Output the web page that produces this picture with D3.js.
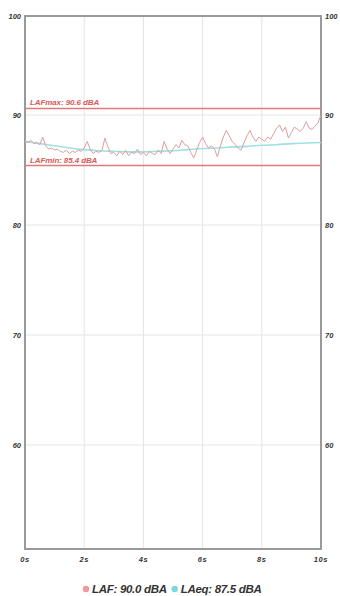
<!DOCTYPE html>
<html>
<head>
<meta charset="utf-8">
<script src="https://cdn.jsdelivr.net/npm/d3@7"></script>
<style>
  html, body { margin: 0; padding: 0; background: #fff; }
  svg { display: block; }
  .lbl { font-family: "Liberation Sans", Arial, sans-serif; font-weight: bold; font-style: italic; }
</style>
</head>
<body>
<svg id="chart" width="340" height="596"></svg>
<script>
// Sound level recording, 10 s window
const lafTimes = d3.range(0, 101).map(i => i / 10);
const lafValues = [
  87.6, 87.5, 87.7, 87.4, 87.5, 87.3, 88.0, 87.2, 86.9, 87.0,
  86.8, 86.9, 86.7, 86.6, 86.8, 86.5, 86.7, 86.6, 86.8, 86.7,
  87.0, 87.6, 86.9, 86.5, 86.7, 86.6, 86.8, 87.9, 87.1, 86.5,
  86.6, 86.3, 86.7, 86.4, 86.8, 86.3, 86.6, 86.5, 86.9, 86.4,
  86.6, 86.3, 86.7, 86.5, 86.4, 86.8, 86.5, 87.6, 86.9, 86.5,
  86.9, 87.3, 87.0, 87.7, 87.3, 87.2, 86.6, 86.1, 86.8, 87.5,
  88.0, 87.4, 87.0, 87.2, 86.9, 86.2, 87.2, 88.0, 88.6, 88.1,
  87.6, 87.3, 87.0, 86.8, 87.5, 88.1, 88.6, 88.0, 87.6, 88.0,
  87.8, 87.6, 88.0, 87.8, 88.3, 88.8, 89.1, 88.5, 88.9, 87.9,
  88.4, 88.9, 88.7, 88.5, 88.8, 89.4, 88.8, 88.7, 89.0, 89.3,
  90.0
];
const leqTimes = [0, 0.5, 1, 1.5, 2, 2.5, 3, 3.5, 4, 4.5, 5, 5.5, 6, 6.5, 7, 7.5, 8, 8.5, 9, 9.5, 10];
const leqValues = [87.6, 87.4, 87.2, 87.0, 86.85, 86.75, 86.7, 86.65, 86.65, 86.7, 86.75, 86.85, 86.95, 87.0, 87.1, 87.15, 87.25, 87.3, 87.4, 87.45, 87.5];

const lafMax = 90.6;
const lafMin = 85.4;
const lafNow = 90.0;
const leqNow = 87.5;

const xTicks = [0, 2, 4, 6, 8, 10];
const xTickLabels = ["0s", "2s", "4s", "6s", "8s", "10s"];
const yTicks = [60, 70, 80, 90];
const yTopLabel = "100";

const svg = d3.select("#chart");
const plotL = 25, plotR = 321, plotT = 16, plotB = 549;

const x = d3.scaleLinear().domain([0, 10]).range([plotL, plotR]);
const y = d3.scaleLinear().domain([60 - 104 / 11, 60 + 429 / 11]).range([plotB, plotT]);

// grid
const grid = svg.append("g");
grid.selectAll("line.v").data(xTicks.slice(1, -1)).join("line")
  .attr("x1", d => x(d)).attr("x2", d => x(d))
  .attr("y1", plotT).attr("y2", plotB)
  .attr("stroke", "#e4e4e4").attr("stroke-width", 1);
grid.selectAll("line.h").data(yTicks).join("line")
  .attr("x1", plotL).attr("x2", plotR)
  .attr("y1", d => y(d)).attr("y2", d => y(d))
  .attr("stroke", "#e4e4e4").attr("stroke-width", 1);

// frame
svg.append("rect")
  .attr("x", plotL).attr("y", plotT)
  .attr("width", plotR - plotL).attr("height", plotB - plotT)
  .attr("fill", "none").attr("stroke", "#9a9a9a").attr("stroke-width", 2);

// y tick labels (both sides)
const yLabelData = yTicks.map(v => ({ v: y(v), t: String(v) })).concat([{ v: plotT, t: yTopLabel }]);
svg.append("g").selectAll("text").data(yLabelData).join("text")
  .attr("class", "lbl")
  .attr("x", plotL - 4).attr("y", d => d.v).attr("dy", "0.35em")
  .attr("text-anchor", "end").attr("font-size", 7.5).attr("fill", "#333")
  .text(d => d.t);
svg.append("g").selectAll("text").data(yLabelData).join("text")
  .attr("class", "lbl")
  .attr("x", plotR + 4).attr("y", d => d.v).attr("dy", "0.35em")
  .attr("text-anchor", "start").attr("font-size", 7.5).attr("fill", "#333")
  .text(d => d.t);

// x tick labels
svg.append("g").selectAll("text").data(xTicks).join("text")
  .attr("class", "lbl")
  .attr("x", d => x(d)).attr("y", plotB + 13)
  .attr("text-anchor", "middle").attr("font-size", 7.5).attr("fill", "#333")
  .attr("letter-spacing", 0.6)
  .text((d, i) => xTickLabels[i]);

// max / min reference lines
const refs = [
  { v: lafMax, t: "LAFmax: " + lafMax.toFixed(1) + " dBA" },
  { v: lafMin, t: "LAFmin: " + lafMin.toFixed(1) + " dBA" }
];
svg.append("g").selectAll("line").data(refs).join("line")
  .attr("x1", plotL).attr("x2", plotR)
  .attr("y1", d => y(d.v)).attr("y2", d => y(d.v))
  .attr("stroke", "#e07a7a").attr("stroke-width", 1.5);
svg.append("g").selectAll("text").data(refs).join("text")
  .attr("class", "lbl")
  .attr("x", plotL + 5).attr("y", d => y(d.v) - 3)
  .attr("font-size", 8).attr("fill", "#d85a5a")
  .attr("letter-spacing", -0.1)
  .text(d => d.t);

// LAeq
const leqLine = d3.line().x((d, i) => x(leqTimes[i])).y(d => y(d)).curve(d3.curveMonotoneX);
svg.append("path").datum(leqValues)
  .attr("d", leqLine).attr("fill", "none")
  .attr("stroke", "#9fe0e2").attr("stroke-width", 1.6);

// LAF
const lafLine = d3.line().x((d, i) => x(lafTimes[i])).y(d => y(d));
svg.append("path").datum(lafValues)
  .attr("d", lafLine).attr("fill", "none")
  .attr("stroke", "#dc9f9f").attr("stroke-width", 1);

// legend
const legendItems = [
  { c: "#ee9a9a", t: "LAF: " + lafNow.toFixed(1) + " dBA" },
  { c: "#7fd6dc", t: "LAeq: " + leqNow.toFixed(1) + " dBA" }
];
const lg = svg.append("g");
let lx = 83;
const ly = 589;
legendItems.forEach(item => {
  lg.append("circle").attr("cx", lx + 3).attr("cy", ly).attr("r", 3.2).attr("fill", item.c);
  const t = lg.append("text").attr("class", "lbl")
    .attr("x", lx + 9).attr("y", ly).attr("dy", "0.36em")
    .attr("font-size", 11.5).attr("fill", "#333").attr("letter-spacing", -0.3).text(item.t);
  lx += 9 + t.node().getComputedTextLength() + 5;
});
</script>
</body>
</html>
